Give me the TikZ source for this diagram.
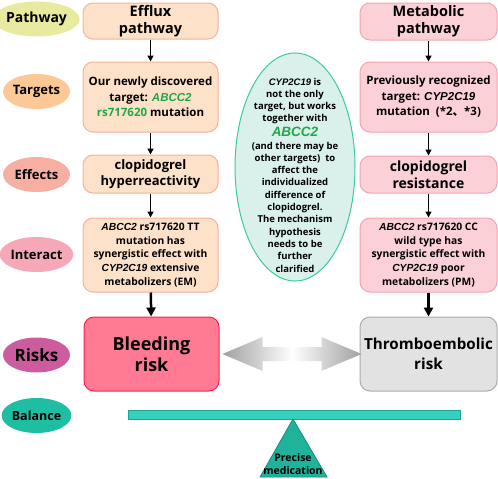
\documentclass[tikz,border=0pt]{standalone}
\usepackage{fontspec}
\setmainfont{Open Sans}
\newfontfamily\genefont{Liberation Sans}
\newfontfamily\cjk{Noto Sans CJK SC}
\usetikzlibrary{shapes.geometric,arrows.meta,calc}
\definecolor{cPath}{HTML}{E8EAA0}
\definecolor{cTarg}{HTML}{FBC896}
\definecolor{cEff}{HTML}{F7AFA2}
\definecolor{cInt}{HTML}{F6A8B9}
\definecolor{cRisk}{HTML}{CC5C9E}
\definecolor{cBal}{HTML}{1DBEA2}
\definecolor{lFill}{HTML}{FDE1C8}
\definecolor{lDraw}{HTML}{F7B09C}
\definecolor{rFill}{HTML}{FBD0D7}
\definecolor{rDraw}{HTML}{F4A3B0}
\definecolor{bleedFill}{HTML}{FF7A92}
\definecolor{bleedDraw}{HTML}{FF2050}
\definecolor{thrFill}{HTML}{E2E2E2}
\definecolor{thrDraw}{HTML}{ABABAB}
\definecolor{midFill}{HTML}{DAF0EB}
\definecolor{midDraw}{HTML}{3CCB9F}
\definecolor{geneGreen}{HTML}{1FA84A}
\definecolor{beamFill}{HTML}{36D0BE}
\definecolor{beamDraw}{HTML}{1DA593}
\definecolor{triFill}{HTML}{1FB39B}
\definecolor{triDraw}{HTML}{108E78}
\newcommand{\gene}[1]{{\genefont\bfseries\itshape #1}}
\newcommand{\ggene}[1]{{\genefont\bfseries\itshape\color{geneGreen}#1}}
\begin{document}
\begin{tikzpicture}[x=1pt,y=-1pt,
  lab/.style={ellipse, minimum width=67pt, minimum height=35pt, inner sep=0pt, font=\bfseries\fontsize{13}{15}\selectfont},
  boxbase/.style={rounded corners=10pt, line width=1pt, inner sep=0pt, align=center, font=\bfseries},
  lbox/.style={boxbase, draw=lDraw, fill=lFill, minimum width=135pt},
  rbox/.style={boxbase, draw=rDraw, fill=rFill, minimum width=137pt},
  flow/.style={-{Triangle[length=6pt,width=6pt]}, line width=1.5pt, black},
  flowbig/.style={-{Triangle[length=9pt,width=9pt]}, line width=2.5pt, black}
]
\useasboundingbox (0,0) rectangle (498,479);

% left labels
\node[lab, fill=cPath, font=\bfseries\fontsize{14}{16}\selectfont] (lPath) at (36.5,19) {Pathway};
\node[lab, fill=cTarg] (lTarg) at (36.5,91.5) {Targets};
\node[lab, fill=cEff] (lEff) at (36.5,174.5) {Effects};
\node[lab, fill=cInt] (lInt) at (36.5,254.5) {Interact};
\node[lab, fill=cRisk, font=\bfseries\fontsize{17}{19}\selectfont] (lRisk) at (36.5,355) {Risks};
\node[lab, fill=cBal, font=\bfseries\fontsize{12.5}{15}\selectfont] (lBal) at (36.5,415.5) {Balance};

% left column
\node[lbox, minimum height=36pt, font=\bfseries\fontsize{14.5}{17}\selectfont] (L1) at (150.5,21) {Efflux\\pathway};
\node[lbox, minimum height=70pt, font=\bfseries\fontsize{11.5}{15.5}\selectfont] (L2) at (150.5,97) {Our newly discovered\\target: \ggene{ABCC2}\\{\color{geneGreen}rs717620} mutation};
\node[lbox, minimum height=38pt, font=\bfseries\fontsize{13}{16.5}\selectfont] (L3) at (150.5,174) {clopidogrel\\hyperreactivity};
\node[lbox, minimum height=74pt, font=\bfseries\fontsize{10.3}{13.8}\selectfont] (L4) at (150.5,255) {\gene{ABCC2} rs717620 TT\\mutation has\\synergistic effect with\\\gene{CYP2C19} extensive\\metabolizers (EM)};
\node[boxbase, draw=bleedDraw, fill=bleedFill, minimum width=135pt, minimum height=74pt, font=\bfseries\fontsize{18}{21}\selectfont] (L5) at (151.5,354) {Bleeding\\risk};

% right column
\node[rbox, minimum height=37pt, font=\bfseries\fontsize{14.5}{17}\selectfont] (R1) at (428.5,21.5) {Metabolic\\pathway};
\node[rbox, minimum height=70pt, font=\bfseries\fontsize{11.5}{15.5}\selectfont] (R2) at (428.5,97) {Previously recognized\\target: \gene{CYP2C19}\\mutation\ \ ({*}2{\cjk 、}{*}3)};
\node[rbox, minimum height=37pt, font=\bfseries\fontsize{14}{17}\selectfont] (R3) at (428.5,174.5) {clopidogrel\\resistance};
\node[rbox, minimum height=74pt, font=\bfseries\fontsize{10.3}{13.8}\selectfont] (R4) at (428.5,255) {\gene{ABCC2} rs717620 CC\\wild type has\\synergistic effect with\\\gene{CYP2C19} poor\\metabolizers (PM)};
\node[boxbase, draw=thrDraw, fill=thrFill, minimum width=137pt, minimum height=74pt, font=\bfseries\fontsize{15.2}{20}\selectfont] (R5) at (428.5,354) {Thromboembolic\\risk};

% flow arrows
\draw[flow] (L1) -- (L2);
\draw[flow] (L2) -- (L3);
\draw[flow] (L3) -- (L4);
\draw[flowbig] (L4) -- (L5);
\draw[flow] (R1) -- (R2);
\draw[flow] (R2) -- (R3);
\draw[flow] (R3) -- (R4);
\draw[flowbig] (R4) -- (R5);

% middle ellipse
\node[ellipse, draw=midDraw, fill=midFill, line width=1pt, minimum width=120pt, minimum height=228pt, inner sep=0pt] (mid) at (295,167) {};
\node[align=center, inner sep=0pt, font=\bfseries\fontsize{9.5}{12.3}\selectfont] (midtext) at ($(mid.center)+(0,8)$) {\gene{CYP2C19} is\\not the only\\target, but works\\together with\\[2.5pt]{\fontsize{13.5}{15}\selectfont\ggene{ABCC2}}\\(and there may be\\other targets)\ \ to\\affect the\\individualized\\difference of\\clopidogrel.\\The mechanism\\hypothesis\\needs to be\\further\\clarified};

% double arrow between risks
\shade[left color=gray!75, right color=gray!75, middle color=white]
  ($(L5.east)+(3,0)$) -- ++(40,-17) -- ++(0,10) -- ($(R5.west)+(-38,-7)$) -- ++(0,-10)
  -- ($(R5.west)+(2,0)$) -- ++(-40,17) -- ++(0,-10) -- ($(L5.east)+(43,7)$) -- ++(0,10) -- cycle;

% balance
\node[draw=beamDraw, fill=beamFill, line width=0.8pt, minimum width=332pt, minimum height=9pt, inner sep=0pt] (beam) at (294,414.5) {};
\coordinate (apex) at (293,419);
\draw[draw=triDraw, fill=triFill, line width=0.8pt] (apex) -- (260,477) -- (327,477) -- cycle;
\node[align=center, inner sep=0pt, font=\bfseries\fontsize{10.5}{12.5}\selectfont] (prec) at (293,464) {Precise\\medication};
\end{tikzpicture}
\end{document}
